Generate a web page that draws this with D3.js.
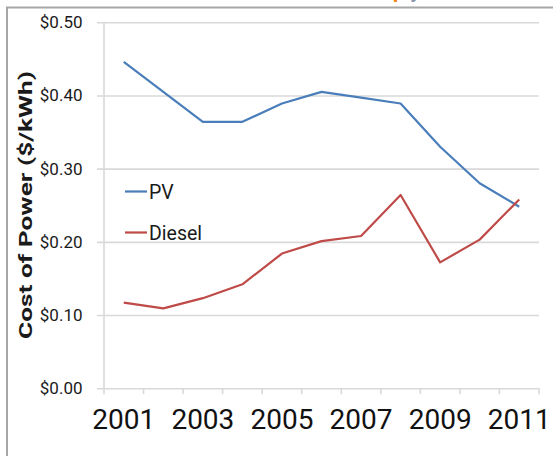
<!DOCTYPE html>
<html>
<head>
<meta charset="utf-8">
<script src="https://cdn.jsdelivr.net/npm/d3@7/dist/d3.min.js"></script>
<style>
  body { margin: 0; background: #fff; }
  svg { display: block; }
  text { font-family: Roboto, "Open Sans", sans-serif; }
</style>
</head>
<body>
<script>
// Annual cost of power, PV vs diesel, 2001-2011
const years = ["2001", "2002", "2003", "2004", "2005", "2006", "2007", "2008", "2009", "2010", "2011"];
const yearLabels = ["2001", "2003", "2005", "2007", "2009", "2011"];
const pvCost = [0.446, 0.405, 0.364, 0.364, 0.389, 0.405, 0.397, 0.389, 0.330, 0.280, 0.248];
const dieselCost = [0.117, 0.109, 0.123, 0.142, 0.184, 0.201, 0.208, 0.264, 0.172, 0.203, 0.258];
const costTicks = [0, 0.1, 0.2, 0.3, 0.4, 0.5];
const seriesNames = ["PV", "Diesel"];
const seriesColors = ["#4a7ebb", "#be4b48"];
const axisTitle = "Cost of Power ($/kWh)";

const W = 553, H = 456;
const plotLeft = 104, plotRight = 539, plotTop = 22.3, plotBottom = 388.2;

const svg = d3.select("body").append("svg")
  .attr("width", W).attr("height", H);

// outer frame (top and left edges visible)
svg.append("path")
  .attr("d", `M7,${H} V7.5 H${W}`)
  .attr("fill", "none")
  .attr("stroke", "#a6a6a6")
  .attr("stroke-width", 2);

// descenders of the caption line sitting above the frame
const cap = svg.append("text")
  .attr("x", 393).attr("y", -2)
  .attr("font-size", 20).attr("font-weight", "bold");
cap.append("tspan").attr("fill", "#f0800a").text("p");
cap.append("tspan").attr("fill", "#8a96b0").attr("dx", 6).text("y");

const x = d3.scaleBand().domain(years).range([plotLeft, plotRight]);
const y = d3.scaleLinear().domain([0, 0.5]).range([plotBottom, plotTop]);

// horizontal gridlines with value labels
const gridX0 = 97;
const yAxis = svg.append("g")
  .attr("transform", `translate(${gridX0},0)`)
  .call(d3.axisLeft(y)
    .tickValues(costTicks)
    .tickSize(-(plotRight - gridX0))
    .tickPadding(14.5)
    .tickFormat(d => "$" + d3.format(".2f")(d)));
yAxis.select(".domain").remove();
yAxis.selectAll(".tick line")
  .attr("stroke", "#d9d9d9").attr("stroke-width", 1.6);
yAxis.selectAll(".tick text")
  .attr("font-size", 17).attr("fill", "#1a1a1a");

// vertical axis line
svg.append("line")
  .attr("x1", plotLeft).attr("x2", plotLeft)
  .attr("y1", plotTop).attr("y2", plotBottom)
  .attr("stroke", "#d9d9d9").attr("stroke-width", 1.6);

// category tick marks at band boundaries
const boundaries = years.map(d => x(d)).concat([x.range()[1]]);
svg.append("g").selectAll("line")
  .data(boundaries)
  .join("line")
  .attr("x1", d => d).attr("x2", d => d)
  .attr("y1", plotBottom).attr("y2", plotBottom + 6)
  .attr("stroke", "#d9d9d9").attr("stroke-width", 1.6);

// year labels at band centres
const xAxis = svg.append("g")
  .attr("transform", `translate(0,${plotBottom})`)
  .call(d3.axisBottom(x)
    .tickSize(0)
    .tickFormat(d => yearLabels.includes(d) ? d : ""));
xAxis.select(".domain").remove();
xAxis.selectAll(".tick text")
  .attr("y", 41).attr("dy", 0)
  .attr("font-size", 28).attr("fill", "#111");

// axis title
svg.append("text")
  .attr("transform", "translate(31.5,205) rotate(-90)")
  .attr("text-anchor", "middle")
  .attr("font-size", 17.5)
  .attr("font-weight", "bold")
  .attr("fill", "#1a1a1a")
  .attr("textLength", 268)
  .attr("lengthAdjust", "spacingAndGlyphs")
  .text(axisTitle);

// series lines
const line = d3.line()
  .x((d, i) => x(years[i]) + x.bandwidth() / 2)
  .y(d => y(d));
[pvCost, dieselCost].forEach((vals, k) => {
  svg.append("path")
    .datum(vals)
    .attr("d", line)
    .attr("fill", "none")
    .attr("stroke", seriesColors[k])
    .attr("stroke-width", 2.2)
    .attr("stroke-linejoin", "round");
});

// legend
const legendRows = [199, 240];
const legend = svg.append("g");
seriesNames.forEach((name, k) => {
  const base = legendRows[k];
  legend.append("line")
    .attr("x1", 125).attr("x2", 147)
    .attr("y1", base - 7.5).attr("y2", base - 7.5)
    .attr("stroke", seriesColors[k]).attr("stroke-width", 2.2);
  legend.append("text")
    .attr("x", 149).attr("y", base)
    .attr("font-size", 19.5).attr("fill", "#1a1a1a")
    .text(name);
});
</script>
</body>
</html>
